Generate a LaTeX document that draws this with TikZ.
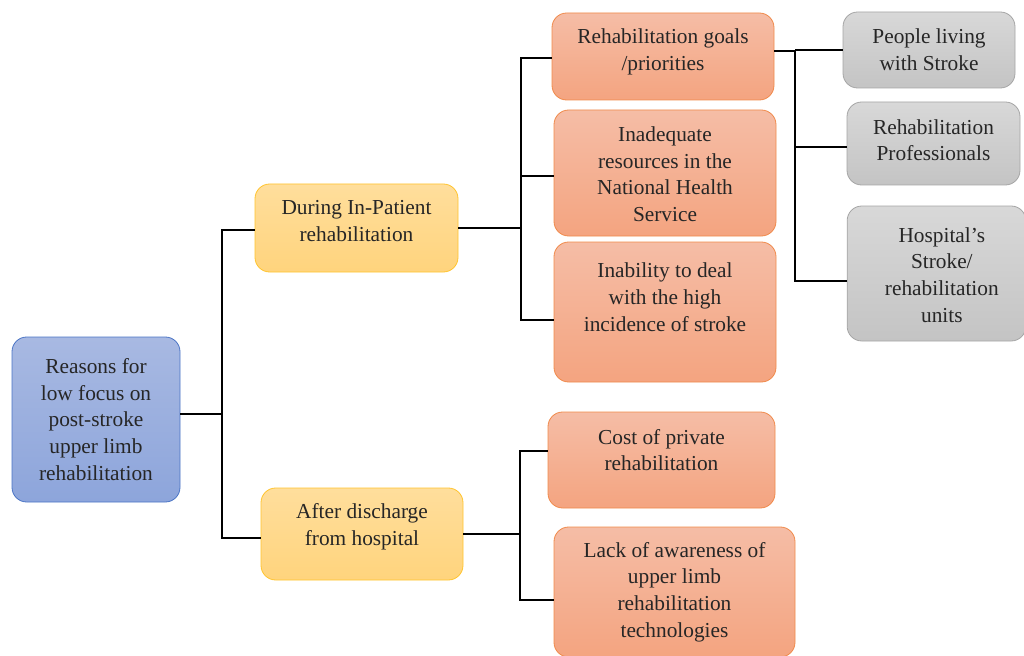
\documentclass[tikz,border=0pt]{standalone}
\usepackage{fontspec}
\setmainfont{Liberation Serif}
\usetikzlibrary{calc}
\definecolor{blueTop}{HTML}{A8B9E2}
\definecolor{blueBot}{HTML}{8DA5DB}
\definecolor{blueLine}{HTML}{4A74C5}
\definecolor{yelTop}{HTML}{FFDE9C}
\definecolor{yelBot}{HTML}{FFD47D}
\definecolor{yelLine}{HTML}{FFC42E}
\definecolor{salTop}{HTML}{F5BDA6}
\definecolor{salBot}{HTML}{F4A480}
\definecolor{salLine}{HTML}{F08A4B}
\definecolor{grayTop}{HTML}{D8D8D8}
\definecolor{grayBot}{HTML}{C4C4C4}
\definecolor{grayLine}{HTML}{A5A5A5}
\definecolor{txtGray}{HTML}{262626}
\begin{document}
\begin{tikzpicture}[
		x=0.75pt, y=-0.75pt,
		box/.style={draw, rounded corners=11pt, line width=0.6pt, inner sep=0pt},
		txt/.style={align=center, text=txtGray, font=\fontsize{16}{20}\selectfont},
		rootbox/.style={box, top color=blueTop, bottom color=blueBot, draw=blueLine},
		stagebox/.style={box, top color=yelTop, bottom color=yelBot, draw=yelLine},
		causebox/.style={box, top color=salTop, bottom color=salBot, draw=salLine},
		groupbox/.style={box, top color=grayTop, bottom color=grayBot, draw=grayLine},
		link/.style={draw=black, line width=1.3pt}
		]
		\useasboundingbox (0,0) rectangle (1024,656);

		\node[rootbox, minimum width=126pt, minimum height=123.75pt] (root) at (96,419.5) {};
		\node[txt] (root-t) at (root) {Reasons for\\low focus on\\post-stroke\\upper limb\\rehabilitation};

		\node[stagebox, minimum width=152.25pt, minimum height=66pt] (during) at (356.5,228) {};
		\node[txt, yshift=5pt] (during-t) at (during) {During In-Patient\\rehabilitation};
		\node[stagebox, minimum width=151.5pt, minimum height=69pt] (after) at (362,534) {};
		\node[txt, yshift=5.5pt] (after-t) at (after) {After discharge\\from hospital};

		\node[causebox, minimum width=166.5pt, minimum height=65.25pt] (goals) at (663,56.5) {};
		\node[txt, yshift=3.5pt] (goals-t) at (goals) {Rehabilitation goals\\/priorities};
		\node[causebox, minimum width=166.5pt, minimum height=94.5pt] (inad) at (665,173) {};
		\node[txt, yshift=-1pt] (inad-t) at (inad) {Inadequate\\resources in the\\National Health\\Service};
		\node[causebox, minimum width=166.5pt, minimum height=105pt] (inab) at (665,312) {};
		\node[txt, yshift=11pt] (inab-t) at (inab) {Inability to deal\\with the high\\incidence of stroke};
		\node[causebox, minimum width=170.25pt, minimum height=72pt] (cost) at (661.5,460) {};
		\node[txt, yshift=7.5pt] (cost-t) at (cost) {Cost of private\\rehabilitation};
		\node[causebox, minimum width=180.75pt, minimum height=97.5pt] (lack) at (674.5,592) {};
		\node[txt] (lack-t) at (lack) {Lack of awareness of\\upper limb\\rehabilitation\\technologies};

		\node[groupbox, minimum width=129pt, minimum height=57pt] (people) at (929,50) {};
		\node[txt] (people-t) at (people) {People living\\with Stroke};
		\node[groupbox, minimum width=129.75pt, minimum height=62.25pt] (prof) at (933.5,143.5) {};
		\node[txt, yshift=2.5pt] (prof-t) at (prof) {Rehabilitation\\Professionals};
		\node[groupbox, minimum width=134pt, minimum height=101.25pt] (hosp) at (936.5,273.5) {};
		\node[txt, yshift=-1pt, xshift=4pt] (hosp-t) at (hosp) {Hospital’s\\Stroke/\\rehabilitation\\units};

		\coordinate (j1) at (222,0);
		\coordinate (j2) at (521,0);
		\coordinate (j3) at (520,0);
		\coordinate (j4) at (795,0);

		\draw[link] ([yshift=4pt]root.east) -- ([yshift=4pt]root.east -| j1);
		\draw[link] ([yshift=-1.5pt]during.west) -- ([yshift=-1.5pt]during.west -| j1) -- ([yshift=-3pt]after.west -| j1) -- ([yshift=-3pt]after.west);

		\draw[link] (during.east) -- (during.east -| j2);
		\draw[link] ([yshift=-1pt]goals.west) -- ([yshift=-1pt]goals.west -| j2) -- ([yshift=-6pt]inab.west -| j2) -- ([yshift=-6pt]inab.west);
		\draw[link] ([yshift=-2pt]inad.west) -- ([yshift=-2pt]inad.west -| j2);

		\draw[link] (after.east) -- (after.east -| j3);
		\draw[link] ([yshift=7pt]cost.west) -- ([yshift=7pt]cost.west -| j3) -- ([yshift=-6pt]lack.west -| j3) -- ([yshift=-6pt]lack.west);

		\draw[link] ([yshift=4pt]goals.east) -- ([yshift=4pt]goals.east -| j4) -- ([yshift=-5.5pt]hosp.west -| j4) -- ([yshift=-5.5pt]hosp.west);
		\draw[link] (people.west) -- (people.west -| j4);
		\draw[link] ([yshift=-2.5pt]prof.west) -- ([yshift=-2.5pt]prof.west -| j4);
	\end{tikzpicture}
\end{document}
